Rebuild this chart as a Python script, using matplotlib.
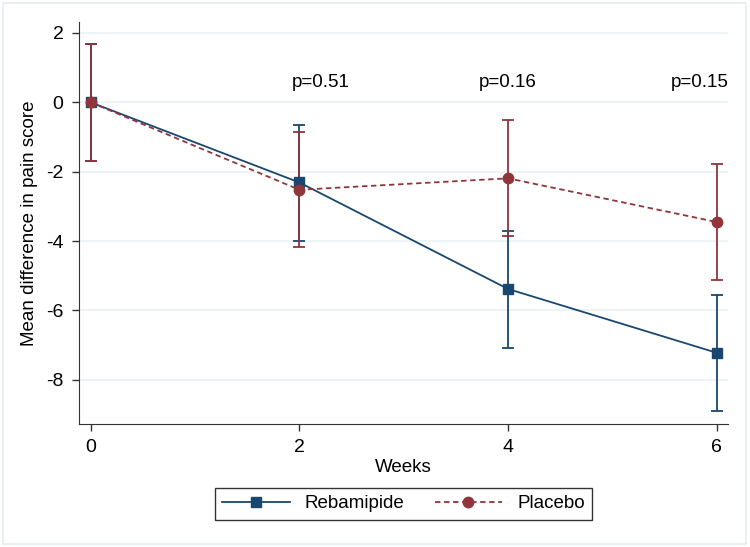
import numpy as np
import matplotlib as mpl
import matplotlib.pyplot as plt
from matplotlib.patches import Rectangle

plt.rcParams['font.family'] = ['Liberation Sans', 'DejaVu Sans']

weeks = [0, 2, 4, 6]
reba_mean = [0.0, -2.31, -5.38, -7.22]
reba_lo = [-1.68, -4.00, -7.07, -8.91]
reba_hi = [1.69, -0.64, -3.70, -5.55]
plac_mean = [0.0, -2.52, -2.19, -3.45]
plac_lo = [-1.68, -4.17, -3.85, -5.12]
plac_hi = [1.69, -0.85, -0.52, -1.79]
p_text = ["p=0.51", "p=0.16", "p=0.15"]
p_x = [2.2, 4.0, 5.84]
p_y = 0.57

blue = "#1a476f"
red = "#90353b"

fig = plt.figure(figsize=(7.5, 5.47), dpi=100)
fig.patches.append(Rectangle((0.004, 0.005), 0.991, 0.99, transform=fig.transFigure,
                             fill=False, edgecolor="#e4ecee", linewidth=1.2))
ax = fig.add_axes([0.105, 0.225, 0.866, 0.735])

rm = np.array(reba_mean)
pm = np.array(plac_mean)
ax.errorbar(weeks, rm, yerr=[rm - np.array(reba_lo), np.array(reba_hi) - rm],
            fmt='none', ecolor=blue, elinewidth=1.3, capsize=4.5, capthick=1.3, zorder=2)
ax.errorbar(weeks, pm, yerr=[pm - np.array(plac_lo), np.array(plac_hi) - pm],
            fmt='none', ecolor=red, elinewidth=1.3, capsize=4.5, capthick=1.3, zorder=2.5)
ax.plot(weeks, rm, color=blue, lw=1.3, marker='s', ms=7, label="Rebamipide", zorder=3)
ax.plot(weeks, pm, color=red, lw=1.3, ls=(0, (3, 2)), marker='o', ms=7.5, label="Placebo", zorder=4)

for t, x in zip(p_text, p_x):
    ax.text(x, p_y, t, ha='center', va='center', fontsize=13.5)

ax.set_xlim(-0.115, 6.11)
ax.set_ylim(-9.27, 2.32)
ax.set_xticks(weeks)
ax.set_yticks([-8, -6, -4, -2, 0, 2])
ax.set_yticklabels(["-8", "-6", "-4", "-2", "0", "2"])
ax.tick_params(labelsize=14, length=5, width=1, color="#333333", pad=6)
ax.grid(axis='y', color="#eaf2f3", lw=1.2)
ax.set_axisbelow(True)
for s in ['top', 'right']:
    ax.spines[s].set_visible(False)
for s in ['left', 'bottom']:
    ax.spines[s].set_color("#333333")
ax.set_xlabel("Weeks", fontsize=13.5, labelpad=2)
ax.set_ylabel("Mean difference in pain score", fontsize=13.5, labelpad=6)

leg = ax.legend(loc='upper center', bbox_to_anchor=(0.5, -0.135), ncol=2, fontsize=13.5,
                frameon=True, fancybox=False, edgecolor="black", handlelength=3.6,
                columnspacing=1.6, borderpad=0.4)
leg.get_frame().set_linewidth(1.0)

fig.savefig("out.png", dpi=100, facecolor="white")
